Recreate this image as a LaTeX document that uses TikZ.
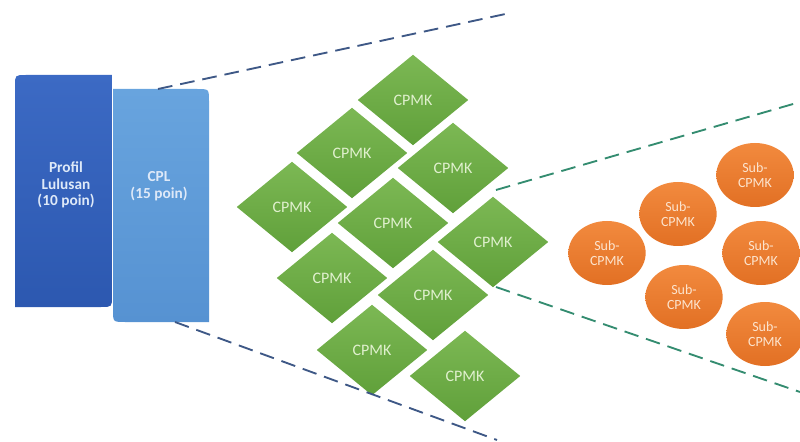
\documentclass[tikz,border=0pt]{standalone}
\usepackage{fontspec}
\setmainfont{Carlito}
\usetikzlibrary{shapes.geometric}

\definecolor{profTop}{RGB}{60,106,196}
\definecolor{profBot}{RGB}{44,88,176}
\definecolor{cplTop}{RGB}{104,164,222}
\definecolor{cplBot}{RGB}{86,146,210}
\definecolor{boxTxt}{RGB}{222,233,248}
\definecolor{grTop}{RGB}{124,184,84}
\definecolor{grBot}{RGB}{96,160,58}
\definecolor{grTxt}{RGB}{224,240,206}
\definecolor{orTop}{RGB}{242,138,62}
\definecolor{orBot}{RGB}{226,112,36}
\definecolor{orTxt}{RGB}{252,228,206}
\definecolor{blueDash}{RGB}{62,88,134}
\definecolor{greenDash}{RGB}{52,140,112}

\begin{document}
\begin{tikzpicture}[x=0.75pt,y=-0.75pt,
  cpmk/.style={diamond, minimum width=83pt, minimum height=68pt, inner sep=0pt,
    top color=grTop, bottom color=grBot, text=grTxt,
    font=\fontsize{12}{14}\selectfont},
  subcpmk/.style={ellipse, minimum width=58pt, minimum height=48pt, inner sep=0pt,
    top color=orTop, bottom color=orBot, text=orTxt, align=center,
    font=\fontsize{10.5}{11.5}\selectfont},
  boxlabel/.style={text=boxTxt, align=center, font=\bfseries\fontsize{11.5}{12.5}\selectfont},
  zoomline/.style={dash pattern=on 11pt off 6pt, line width=1.4pt}
]
\useasboundingbox (0,0) rectangle (800,442);

% Profil Lulusan block
\shade[top color=profTop, bottom color=profBot]
  (15,307) -- (15,86) .. controls (15,75) .. (26,75) -- (112,75) -- (112,296)
  .. controls (112,307) .. (101,307) -- cycle;
% CPL block
\shade[top color=cplTop, bottom color=cplBot]
  (113,89) -- (197,89) .. controls (209,89) .. (209,101) -- (209,322)
  -- (125,322) .. controls (113,322) .. (113,310) -- cycle;

\node[boxlabel] (profil) at (66,185) {Profil\\Lulusan\\(10 poin)};
\node[boxlabel] (cpl) at (159,186) {CPL\\(15 poin)};

% CPMK diamonds
\node[cpmk] (c1)  at (413,100) {CPMK};
\node[cpmk] (c2)  at (352,153) {CPMK};
\node[cpmk] (c3)  at (453,168) {CPMK};
\node[cpmk] (c4)  at (292,207) {CPMK};
\node[cpmk] (c5)  at (393,223) {CPMK};
\node[cpmk] (c6)  at (493,242) {CPMK};
\node[cpmk] (c7)  at (332,278) {CPMK};
\node[cpmk] (c8)  at (433,295) {CPMK};
\node[cpmk] (c9)  at (372,350) {CPMK};
\node[cpmk] (c10) at (465,376) {CPMK};

% Sub-CPMK ellipses
\node[subcpmk] (s1) at (607,253) {Sub-\\CPMK};
\node[subcpmk] (s2) at (678,214) {Sub-\\CPMK};
\node[subcpmk] (s3) at (755,175) {Sub-\\CPMK};
\node[subcpmk] (s4) at (761,253) {Sub-\\CPMK};
\node[subcpmk] (s5) at (684,297) {Sub-\\CPMK};
\node[subcpmk] (s6) at (765,334) {Sub-\\CPMK};

% zoom-out guide lines
\coordinate (cplTopEnd) at (158,89);
\coordinate (cplBotEnd) at (175,322);
\coordinate (farTop) at (510,13);
\coordinate (farBot) at (497,440);
\coordinate (c6Top) at (496,190);
\coordinate (c6Bot) at (496,287);
\coordinate (edgeTop) at (800,102);
\coordinate (edgeBot) at (800,392);

\draw[zoomline, blueDash] (cplTopEnd) -- (farTop);
\draw[zoomline, blueDash] (cplBotEnd) -- (farBot);
\draw[zoomline, greenDash] (c6Top) -- (edgeTop);
\draw[zoomline, greenDash] (c6Bot) -- (edgeBot);
\end{tikzpicture}
\end{document}
